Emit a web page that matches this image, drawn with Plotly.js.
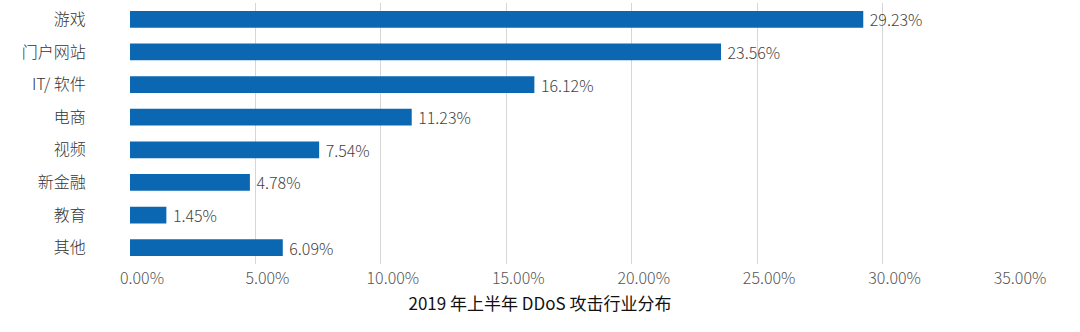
<!DOCTYPE html>
<html>
<head>
<meta charset="utf-8">
<script src="https://cdn.plot.ly/plotly-3.0.1.min.js"></script>
<style>html,body{margin:0;padding:0;background:#fff;}#chart{width:1080px;height:332px;}</style>
</head>
<body>
<div id="chart"></div>
<script>
const categories = ["游戏", "门户网站", "IT/ 软件", "电商", "视频", "新金融", "教育", "其他"];
const shares = [29.23, 23.56, 16.12, 11.23, 7.54, 4.78, 1.45, 6.09];
const tickValues = [0, 5, 10, 15, 20, 25, 30, 35];
const tickLabels = ["0.00%", "5.00%", "10.00%", "15.00%", "20.00%", "25.00%", "30.00%", "35.00%"];
const chartTitle = "2019 年上半年 DDoS 攻击行业分布";

const FONT = '"Noto Sans CJK SC", "Noto Sans", sans-serif';

const trace = {
  type: 'bar',
  orientation: 'h',
  y: categories,
  x: shares,
  marker: {color: '#0b67b2'},
  texttemplate: '\u00a0%{x:.2f}%',
  textposition: 'outside',
  constraintext: 'none',
  cliponaxis: false,
  textfont: {family: FONT, size: 16, color: '#444', weight: 300},
  hoverinfo: 'skip'
};

const layout = {
  width: 1080,
  height: 332,
  margin: {l: 129.5, r: 72, t: 3, b: 68},
  paper_bgcolor: '#fff',
  plot_bgcolor: '#fff',
  bargap: 0.49,
  showlegend: false,
  font: {family: FONT},
  title: {
    text: chartTitle,
    xref: 'container', x: 0.5, xanchor: 'center',
    yref: 'container', y: 1 - 304/332, yanchor: 'middle',
    font: {family: FONT, size: 17, color: '#111'}
  },
  xaxis: {
    range: [0, 35],
    tickmode: 'array',
    tickvals: tickValues,
    ticktext: tickLabels,
    showgrid: true,
    gridcolor: '#d6d6d6',
    gridwidth: 1,
    zeroline: false,
    showline: false,
    ticks: '',
    ticklabelshift: 12,
    ticklabelstandoff: 3,
    tickfont: {family: FONT, size: 16, color: '#555', weight: 300},
    fixedrange: true
  },
  yaxis: {
    autorange: 'reversed',
    type: 'category',
    showgrid: false,
    zeroline: false,
    showline: false,
    ticks: 'outside',
    ticklen: 40,
    tickcolor: 'rgba(0,0,0,0)',
    tickfont: {family: FONT, size: 16, color: '#333', weight: 300},
    fixedrange: true
  }
};

Plotly.newPlot('chart', [trace], layout, {staticPlot: true, displayModeBar: false});
</script>
</body>
</html>
